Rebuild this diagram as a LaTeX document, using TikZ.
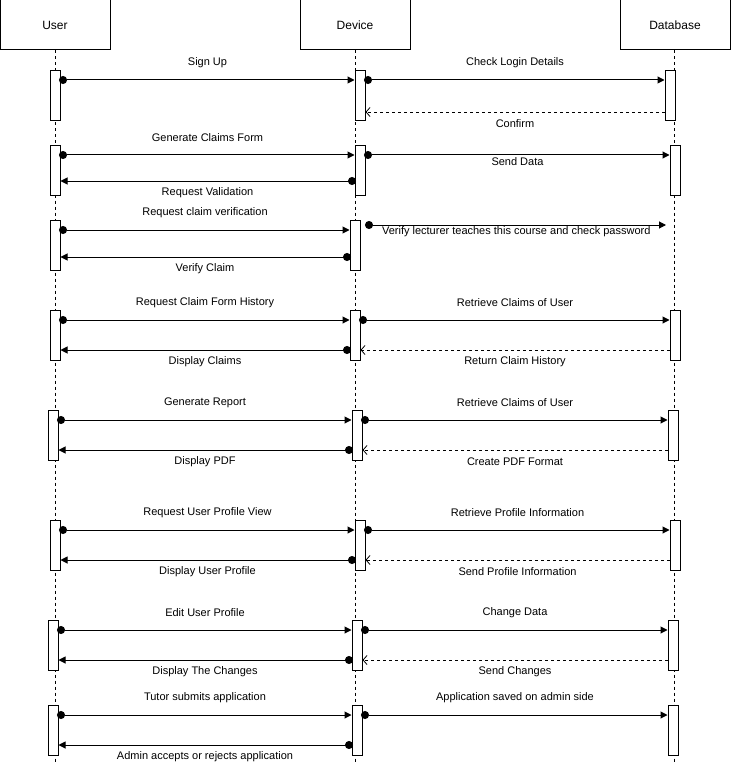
\documentclass[tikz,border=0pt]{standalone}
\usepackage{fontspec}
\setmainfont{Liberation Sans}
\usetikzlibrary{arrows.meta}
\begin{document}
\begin{tikzpicture}[x=1pt,y=-1pt,
  font=\fontsize{11}{13}\selectfont,
  every node/.style={inner sep=0pt},
  actor/.style={draw, line width=1pt, minimum width=110pt, minimum height=50pt,
    font=\fontsize{12}{14}\selectfont},
  bar/.style={draw, fill=white, line width=1pt, minimum width=10pt, minimum height=50pt, anchor=north},
  lifeline/.style={dash pattern=on 3pt off 3pt, line width=0.8pt},
  call/.style={line width=1pt, shorten <=-1.5pt,
    {Circle[length=8pt,width=8pt]}-{Triangle[length=7pt,width=7pt]}},
  reply/.style={line width=0.8pt, dash pattern=on 3pt off 3pt,
    -{Straight Barb[length=4pt,width=9pt]}},
  over/.style={midway, yshift=17.5pt},
  under/.style={midway, yshift=-12pt},
  onto/.style={midway, yshift=-6.5pt},
]
\useasboundingbox (0,0) rectangle (731,762);

% participants
\node[actor] (user) at (55,25) {User};
\node[actor] (dev) at (355,25) {Device};
\node[actor] (db) at (675,25) {Database};

% lifelines
\coordinate (userEnd) at (55,762);
\coordinate (devEnd) at (355,762);
\coordinate (dbEnd) at (674,762);
\draw[lifeline] (user.south) -- (userEnd);
\draw[lifeline] (dev.south) -- (devEnd);
\draw[lifeline] ([xshift=-1pt]db.south) -- (dbEnd);

% activation bars
\node[bar] (u1) at (55,70) {};  \node[bar] (d1) at (360,70) {};  \node[bar] (b1) at (670,70) {};
\node[bar] (u2) at (55,145) {}; \node[bar] (d2) at (360,145) {}; \node[bar] (b2) at (675,145) {};
\node[bar] (u3) at (55,220) {}; \node[bar] (d3) at (355,220) {};
\node[bar] (u4) at (55,310) {}; \node[bar] (d4) at (355,310) {}; \node[bar] (b4) at (675,310) {};
\node[bar] (u5) at (53,410) {}; \node[bar] (d5) at (357,410) {}; \node[bar] (b5) at (673,410) {};
\node[bar] (u6) at (55,520) {}; \node[bar] (d6) at (360,520) {}; \node[bar] (b6) at (675,520) {};
\node[bar] (u7) at (53,620) {}; \node[bar] (d7) at (357,620) {}; \node[bar] (b7) at (673,620) {};
\node[bar] (u8) at (53,705) {}; \node[bar] (d8) at (357,705) {}; \node[bar] (b8) at (673,705) {};
\coordinate (v3) at (666,225);

% sign up
\draw[call] ([yshift=-10pt]u1.north east) -- ([yshift=-10pt]d1.north west) node[over] {Sign Up};
\draw[call] ([yshift=-10pt]d1.north east) -- ([yshift=-10pt]b1.north west) node[over] {Check Login Details};
\draw[reply] ([yshift=-42pt]b1.north west) -- ([yshift=-42pt]d1.north east) node[under] {Confirm};

% claims form
\draw[call] ([yshift=-10pt]u2.north east) -- ([yshift=-10pt]d2.north west) node[over] {Generate Claims Form};
\draw[call] ([yshift=-10pt]d2.north east) -- ([yshift=-10pt]b2.north west) node[onto] {Send Data};
\draw[call] ([yshift=-36pt]d2.north west) -- ([yshift=-36pt]u2.north east) node[under] {Request Validation};

% claim verification
\draw[call] ([yshift=-10pt]u3.north east) -- ([yshift=-10pt]d3.north west) node[over] {Request claim verification};
\draw[call] ([xshift=6pt,yshift=-5pt]d3.north east) -- (v3) node[onto] {Verify lecturer teaches this course and check password};
\draw[call] ([yshift=-37pt]d3.north west) -- ([yshift=-37pt]u3.north east) node[under] {Verify Claim};

% claim history
\draw[call] ([yshift=-10pt]u4.north east) -- ([yshift=-10pt]d4.north west) node[over] {Request Claim Form History};
\draw[call] ([yshift=-10pt]d4.north east) -- ([yshift=-10pt]b4.north west) node[over] {Retrieve Claims of User};
\draw[call] ([yshift=-40pt]d4.north west) -- ([yshift=-40pt]u4.north east) node[under] {Display Claims};
\draw[reply] ([yshift=-40pt]b4.north west) -- ([yshift=-40pt]d4.north east) node[under] {Return Claim History};

% report
\draw[call] ([yshift=-10pt]u5.north east) -- ([yshift=-10pt]d5.north west) node[over] {Generate Report};
\draw[call] ([yshift=-10pt]d5.north east) -- ([yshift=-10pt]b5.north west) node[over] {Retrieve Claims of User};
\draw[call] ([yshift=-40pt]d5.north west) -- ([yshift=-40pt]u5.north east) node[under] {Display PDF};
\draw[reply] ([yshift=-40pt]b5.north west) -- ([yshift=-40pt]d5.north east) node[under] {Create PDF Format};

% profile view
\draw[call] ([yshift=-10pt]u6.north east) -- ([yshift=-10pt]d6.north west) node[over] {Request User Profile View};
\draw[call] ([yshift=-10pt]d6.north east) -- ([yshift=-10pt]b6.north west) node[over] {Retrieve Profile Information};
\draw[call] ([yshift=-40pt]d6.north west) -- ([yshift=-40pt]u6.north east) node[under] {Display User Profile};
\draw[reply] ([yshift=-40pt]b6.north west) -- ([yshift=-40pt]d6.north east) node[under] {Send Profile Information};

% profile edit
\draw[call] ([yshift=-10pt]u7.north east) -- ([yshift=-10pt]d7.north west) node[over] {Edit User Profile};
\draw[call] ([yshift=-10pt]d7.north east) -- ([yshift=-10pt]b7.north west) node[over] {Change Data};
\draw[call] ([yshift=-40pt]d7.north west) -- ([yshift=-40pt]u7.north east) node[under] {Display The Changes};
\draw[reply] ([yshift=-40pt]b7.north west) -- ([yshift=-40pt]d7.north east) node[under] {Send Changes};

% tutor application
\draw[call] ([yshift=-10pt]u8.north east) -- ([yshift=-10pt]d8.north west) node[over] {Tutor submits application};
\draw[call] ([yshift=-10pt]d8.north east) -- ([yshift=-10pt]b8.north west) node[over] {Application saved on admin side};
\draw[call] ([yshift=-40pt]d8.north west) -- ([yshift=-40pt]u8.north east) node[under] {Admin accepts or rejects application};
\end{tikzpicture}
\end{document}
